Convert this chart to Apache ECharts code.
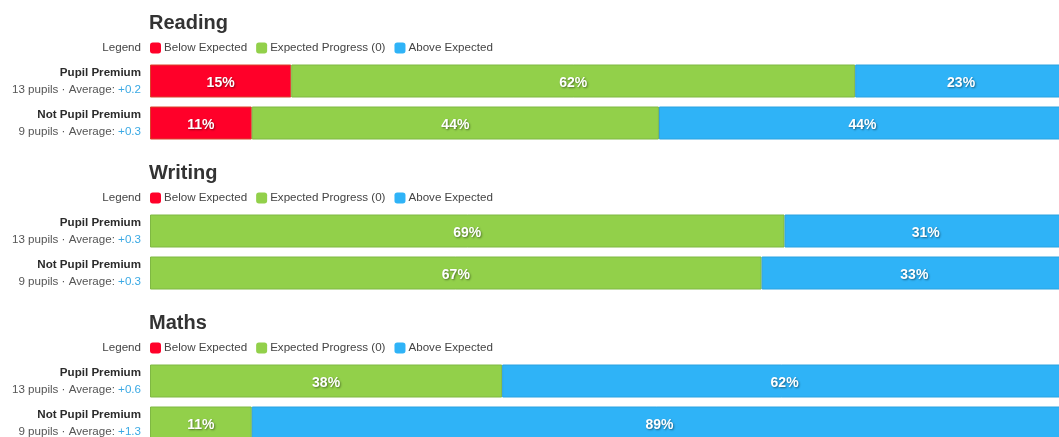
<!DOCTYPE html>
<html>
<head>
<meta charset="utf-8">
<title>Progress by pupil group</title>
<script src="https://cdn.jsdelivr.net/npm/echarts@6/dist/echarts.min.js"></script>
<style>
html, body { margin: 0; padding: 0; background: #fff; }
#chart { width: 1059px; height: 437px; }
</style>
</head>
<body>
<div id="chart"></div>
<script>
var subjects = ['Reading', 'Writing', 'Maths'];
var groups = ['Pupil Premium', 'Not Pupil Premium'];
var pupils = [13, 9];
var averages = [['+0.2', '+0.3'], ['+0.3', '+0.3'], ['+0.6', '+1.3']];
var bandNames = ['Below Expected', 'Expected Progress (0)', 'Above Expected'];
var bandColors = ['#ff0029', '#92d04a', '#2fb3f7'];
var bandBorders = ['#d8442c', '#7fb843', '#2aa2e0'];

// share of pupils (%) in each band, [subject][group]
var belowPct = [[15.4, 11.1], [0, 0], [0, 0]];
var expectedPct = [[61.5, 44.4], [69.2, 66.7], [38.4, 11.1]];
var abovePct = [[23.1, 44.4], [30.8, 33.3], [61.6, 88.9]];

var FONT = '"Liberation Sans", Arial, sans-serif';
var SMALL = 11.6;
var STEP = 150;

var chart = echarts.init(document.getElementById('chart'), null, { renderer: 'canvas' });

var titles = [];
var legends = [];
var grids = [];
var xAxes = [];
var yAxes = [];
var series = [];
var graphics = [];

function yLabel(s) {
  return function(value, index) {
    return '{name|' + value + '}\n{sub|' + pupils[index] + ' pupils \u00b7 Average: }{avg|' + averages[s][index] + '}';
  };
}

for (var s = 0; s < subjects.length; s++) {
  var off = s * STEP;
  titles.push({
    text: subjects[s],
    left: 149,
    top: 13 + off,
    padding: 0,
    textStyle: { fontFamily: FONT, fontSize: 20, fontWeight: 'bold', color: '#333' }
  });
  legends.push({
    data: bandNames,
    left: 150,
    top: 42 + off,
    padding: 0,
    icon: 'roundRect',
    itemWidth: 11,
    itemHeight: 11,
    itemGap: 9,
    selectedMode: false,
    itemStyle: { borderWidth: 0 },
    textStyle: { fontFamily: FONT, fontSize: SMALL, color: '#444', padding: [0, 0, 0, -2] }
  });
  graphics.push({
    type: 'text',
    right: 1059 - 141,
    top: 42 + off,
    style: { text: 'Legend', fontFamily: FONT, fontSize: SMALL, fill: '#444' }
  });
  grids.push({ left: 150, width: 917, top: 60 + off, height: 84, outerBoundsMode: 'none' });
  xAxes.push({ type: 'value', gridIndex: s, min: 0, max: 100, show: false });
  yAxes.push({
    type: 'category',
    gridIndex: s,
    inverse: true,
    data: groups,
    axisLine: { show: false },
    axisTick: { show: false },
    splitLine: { show: false },
    axisLabel: {
      margin: 9,
      formatter: yLabel(s),
      rich: {
        name: { fontFamily: FONT, fontSize: SMALL, fontWeight: 'bold', color: '#2b2b2b', align: 'right', lineHeight: 17 },
        sub: { fontFamily: FONT, fontSize: SMALL, color: '#555', lineHeight: 17 },
        avg: { fontFamily: FONT, fontSize: SMALL, color: '#3aa9e4', lineHeight: 17 }
      }
    }
  });

  var bands = [belowPct[s], expectedPct[s], abovePct[s]];
  for (var b = 0; b < bands.length; b++) {
    series.push({
      name: bandNames[b],
      type: 'bar',
      stack: 'subject' + s,
      xAxisIndex: s,
      yAxisIndex: s,
      barWidth: 33,
      data: bands[b].map(function(v) { return v > 0 ? v : '-'; }),
      itemStyle: { color: bandColors[b], borderColor: bandBorders[b], borderWidth: 1 },
      label: {
        show: true,
        position: 'inside',
        offset: [0, 2],
        fontFamily: FONT,
        fontSize: 14,
        fontWeight: 'bold',
        color: '#fff',
        textShadowColor: 'rgba(0,0,0,0.45)',
        textShadowBlur: 2,
        textShadowOffsetX: 1,
        textShadowOffsetY: 1,
        formatter: function(p) { return Math.round(p.value) + '%'; }
      }
    });
  }
}

chart.setOption({
  animation: false,
  title: titles,
  legend: legends,
  grid: grids,
  xAxis: xAxes,
  yAxis: yAxes,
  series: series,
  graphic: graphics
});

window.addEventListener('resize', function() {
  chart.resize();
});
</script>
</body>
</html>
